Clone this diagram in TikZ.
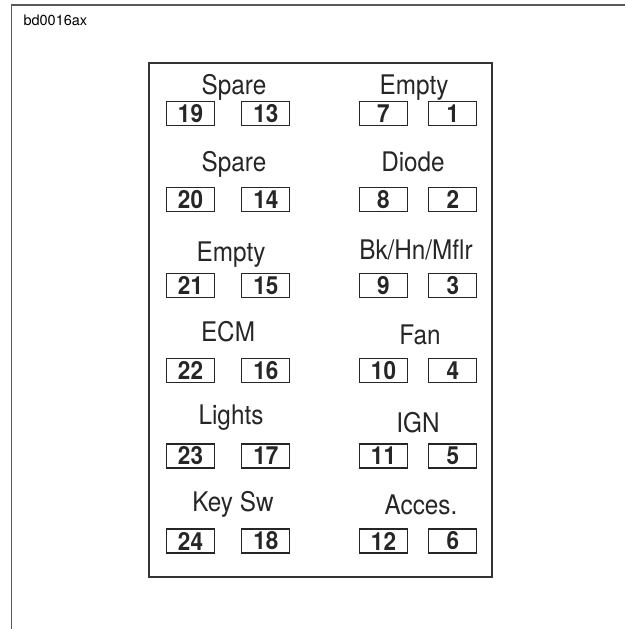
\documentclass[tikz,border=0pt]{standalone}
\usepackage{fontspec}
\setmainfont{TeX Gyre Heros}
\newfontfamily\narrowfont[FakeStretch=0.9]{TeX Gyre Heros}
\usetikzlibrary{positioning}

\begin{document}
\begin{tikzpicture}[x=1pt, y=1pt,
		fuse/.style={draw=black!85, line width=1.3pt, rectangle, minimum width=48pt, minimum height=24pt, inner sep=0pt, font=\narrowfont\bfseries\fontsize{25}{28}\selectfont, text=black!85},
		circuit/.style={inner sep=0pt, text height=19pt, text depth=0pt, font=\narrowfont\fontsize{27}{30}\selectfont, text=black!85}]
			\useasboundingbox (0,0) rectangle (625,629);
			\draw [line width=1.6pt, black!65] (625,624) -- (11.5,624) -- (11.5,0);
			\node [anchor=west, font=\fontsize{14.5}{16}\selectfont] (tag) at (20,609) {bd0016ax};
			\draw [line width=1.8pt, black!80] (149,566) rectangle (492,52);
			
			% left column
			\node [circuit] (spareA) at (234,544) {Spare};
			\node [fuse] (f19) at (190.5,515.5) {19};
			\node [fuse, right=26pt of f19] (f13) {13};
			
			\node [circuit] (spareB) at (234,467) {Spare};
			\node [fuse] (f20) at (190.5,429.5) {20};
			\node [fuse, right=26pt of f20] (f14) {14};
			
			\node [circuit] (emptyB) at (231,377) {Empty};
			\node [fuse] (f21) at (190.5,343.5) {21};
			\node [fuse, right=26pt of f21] (f15) {15};
			
			\node [circuit] (ecm) at (228,297) {ECM};
			\node [fuse] (f22) at (190.5,258.5) {22};
			\node [fuse, right=26pt of f22] (f16) {16};
			
			\node [circuit] (lights) at (231,214) {Lights};
			\node [fuse] (f23) at (190.5,173) {23};
			\node [fuse, right=26pt of f23] (f17) {17};
			
			\node [circuit] (keysw) at (233,127) {Key Sw};
			\node [fuse] (f24) at (190.5,88) {24};
			\node [fuse, right=26pt of f24] (f18) {18};
			
			% right column
			\node [circuit] (emptyA) at (414,544) {Empty};
			\node [fuse] (f7) at (383.5,515.5) {7};
			\node [fuse, right=20pt of f7] (f1) {1};
			
			\node [circuit] (diode) at (413,467) {Diode};
			\node [fuse] (f8) at (383.5,429.5) {8};
			\node [fuse, right=20pt of f8] (f2) {2};
			
			\node [circuit] (horn) at (416,379) {Bk/Hn/Mflr};
			\node [fuse] (f9) at (383.5,343.5) {9};
			\node [fuse, right=20pt of f9] (f3) {3};
			
			\node [circuit] (fan) at (420,294) {Fan};
			\node [fuse] (f10) at (383.5,258.5) {10};
			\node [fuse, right=20pt of f10] (f4) {4};
			
			\node [circuit] (ign) at (418,206) {IGN};
			\node [fuse] (f11) at (383.5,173) {11};
			\node [fuse, right=20pt of f11] (f5) {5};
			
			\node [circuit] (acces) at (421,124) {Acces.};
			\node [fuse] (f12) at (383.5,88) {12};
			\node [fuse, right=20pt of f12] (f6) {6};
		\end{tikzpicture}
\end{document}
